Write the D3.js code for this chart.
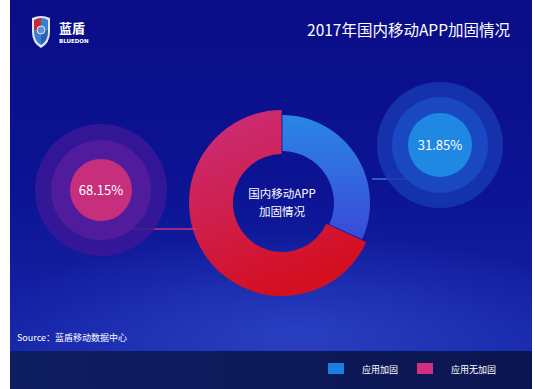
<!DOCTYPE html>
<html><head><meta charset="utf-8">
<script src="https://cdn.jsdelivr.net/npm/d3@7"></script>
<style>html,body{margin:0;padding:0;background:#fff;overflow:hidden}svg{display:block}</style>
</head><body><svg id="c" width="535" height="389"></svg>
<script>
const categories = ['应用加固', '应用无加固'];
const values = [31.85, 68.15];
const labels = ['31.85%', '68.15%'];
const title = '2017年国内移动APP加固情况';
const centerLines = ['国内移动APP', '加固情况'];
const source = 'Source：蓝盾移动数据中心';

const W = 535, H = 389;
const svg = d3.select('#c');
const font = '"Noto Sans CJK SC","Noto Sans",sans-serif';
const defs = svg.append('defs');

// background gradients
const bg = defs.append('linearGradient').attr('id','bg').attr('x1',0).attr('y1',0).attr('x2',0).attr('y2',1);
bg.append('stop').attr('offset','0%').attr('stop-color','#0a0d86');
bg.append('stop').attr('offset','55%').attr('stop-color','#0c1494');
bg.append('stop').attr('offset','100%').attr('stop-color','#1626a8');
const glow = defs.append('radialGradient').attr('id','glow').attr('cx','0.55').attr('cy','0.9').attr('r','0.6');
glow.append('stop').attr('offset','0%').attr('stop-color','#3a55d8').attr('stop-opacity',0.55);
glow.append('stop').attr('offset','100%').attr('stop-color','#3a55d8').attr('stop-opacity',0);
const foot = defs.append('linearGradient').attr('id','foot').attr('x1',0).attr('y1',0).attr('x2',1).attr('y2',0);
foot.append('stop').attr('offset','0%').attr('stop-color','#0f1d62');
foot.append('stop').attr('offset','100%').attr('stop-color','#0b1650');

const gPink = defs.append('linearGradient').attr('id','gPink').attr('x1',0).attr('y1',0).attr('x2',0.4).attr('y2',1);
gPink.append('stop').attr('offset','0%').attr('stop-color','#c9307f');
gPink.append('stop').attr('offset','100%').attr('stop-color','#d40f22');
const gBlue = defs.append('linearGradient').attr('id','gBlue').attr('x1',0).attr('y1',0).attr('x2',0).attr('y2',1);
gBlue.append('stop').attr('offset','0%').attr('stop-color','#2a86e6');
gBlue.append('stop').attr('offset','100%').attr('stop-color','#3a4ad8');

svg.append('rect').attr('x',10).attr('y',0).attr('width',W-13).attr('height',351).attr('fill','url(#bg)');
svg.append('rect').attr('x',10).attr('y',180).attr('width',W-13).attr('height',171).attr('fill','url(#glow)');
svg.append('rect').attr('x',10).attr('y',351).attr('width',W-13).attr('height',38).attr('fill','url(#foot)');

// logo
const logo = svg.append('g').attr('transform','translate(30,14)');
logo.append('path').attr('d','M2,4 Q11,0 20,4 L20,18 Q20,29 11,34 Q2,29 2,18 Z').attr('fill','#dfe6f5');
logo.append('path').attr('d','M4,6 Q7.5,4 11,4 L11,16 L4,16 Z').attr('fill','#c8282e');
logo.append('path').attr('d','M11,4 Q15,4 18,6 L18,16 L11,16 Z').attr('fill','#3c7fd0');
logo.append('path').attr('d','M4,16 L11,16 L11,31 Q4,27 4,18 Z').attr('fill','#3c7fd0');
logo.append('path').attr('d','M11,16 L18,16 L18,18 Q18,27 11,31 Z').attr('fill','#2b5fb0');
logo.append('circle').attr('cx',11).attr('cy',16).attr('r',4).attr('fill','#5d8fd8').attr('stroke','#dfe6f5').attr('stroke-width',1);
svg.append('text').attr('x',59).attr('y',33).text('蓝盾').attr('fill','#fff').attr('font-family',font).attr('font-size',13).attr('font-weight','bold');
svg.append('text').attr('x',59).attr('y',43).text('BLUEDON').attr('fill','#fff').attr('font-family','"DejaVu Sans",sans-serif').attr('font-size',5.5).attr('font-weight','bold');

// title
svg.append('text').attr('x',510).attr('y',36).attr('text-anchor','end').text(title)
  .attr('fill','#fff').attr('font-family',font).attr('font-size',15.5);

// donut
const cx = 282, cy = 203;
const pie = d3.pie().sort(null).value(d => d);
const arcs = pie(values);
const fills = ['url(#gBlue)', 'url(#gPink)'];
const radii = [[52, 88], [49, 93]];
const dg = svg.append('g').attr('transform',`translate(${cx},${cy})`);
dg.selectAll('path').data(arcs).join('path')
  .attr('d', (d,i) => d3.arc().innerRadius(radii[i][0]).outerRadius(radii[i][1]).padAngle(0.008)(d))
  .attr('fill', (d,i) => fills[i]);
dg.selectAll('text').data(centerLines).join('text')
  .attr('x',0).attr('y',(d,i) => -5 + i*18).attr('text-anchor','middle')
  .attr('fill','#fff').attr('font-family',font).attr('font-size',11.5).text(d => d);

// bubbles
const bubbles = [
  {cx: 440, cy: 145, rings: ['#1737b2','#1a4cc6','#1e88e3'], rs:[63,48,32], line:'#3a72d8',
   pts: [[428,176],[423,179],[372,179]]},
  {cx: 101, cy: 190, rings: ['#3a1898','#561c9e','#c72f7d'], rs:[66,50,31], line:'#c8307f',
   pts: [[124,223],[134,229],[196,229]]}
];
bubbles.forEach((b, i) => {
  const idx = i; // 0: blue (应用加固), 1: pink
  svg.append('path').attr('d', d3.line()(b.pts)).attr('fill','none').attr('stroke', b.line).attr('stroke-width',1.6);
  const g = svg.append('g').attr('transform',`translate(${b.cx},${b.cy})`);
  g.selectAll('circle').data(b.rs).join('circle').attr('r', d => d).attr('fill', (d,j) => b.rings[j]).attr('opacity', (d,j) => j===2 ? 1 : 0.85);
  g.append('text').attr('y',5).attr('text-anchor','middle').attr('fill','#fff')
    .attr('font-family',font).attr('font-size',13).text(labels[idx]);
});

// source
svg.append('text').attr('x',17).attr('y',341).text(source).attr('fill','#fff').attr('font-family',font).attr('font-size',9);

// legend
const legColors = ['#1a7fe0', '#d0307f'];
const legX = [328, 417];
const lg = svg.append('g');
categories.forEach((c, i) => {
  lg.append('rect').attr('x', legX[i]).attr('y', 363).attr('width', 16).attr('height', 11).attr('fill', legColors[i]);
  lg.append('text').attr('x', legX[i] + 34).attr('y', 373).text(c).attr('fill','#fff').attr('font-family',font).attr('font-size',9);
});
</script></body></html>
